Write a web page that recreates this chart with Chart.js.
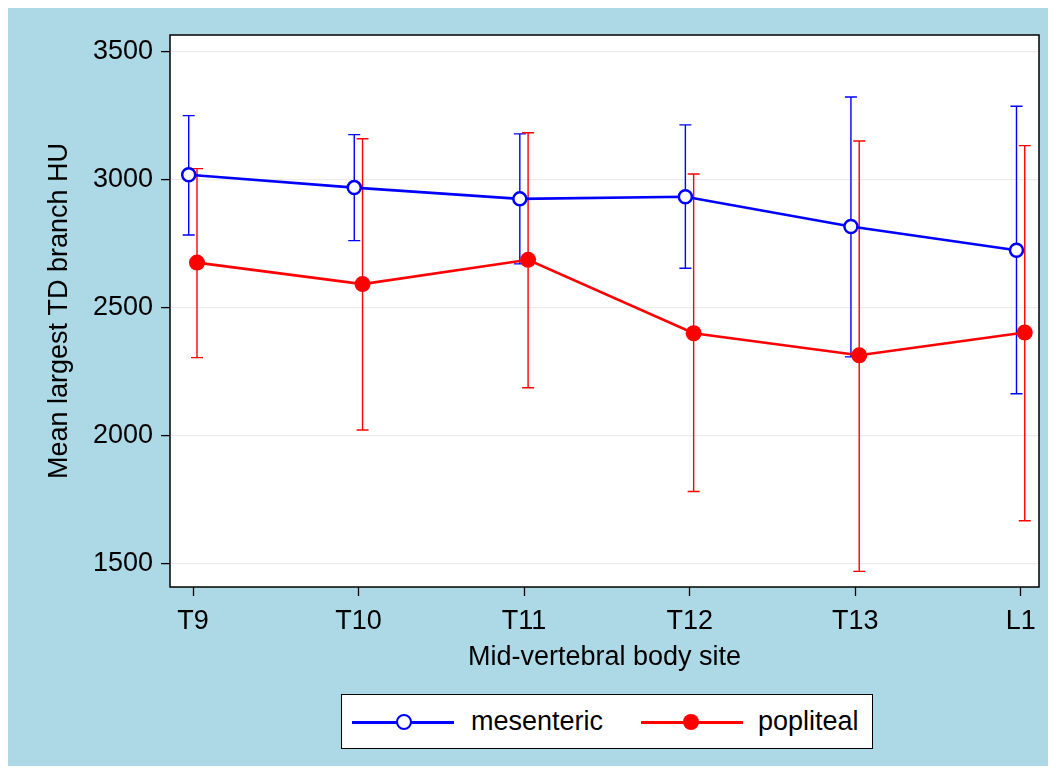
<!DOCTYPE html>
<html>
<head>
<meta charset="utf-8">
<title>Mean largest TD branch HU</title>
<script src="https://cdn.jsdelivr.net/npm/chart.js@4"></script>
<style>
  body { margin: 0; background: #fff; font-family: "Liberation Sans", Arial, Helvetica, sans-serif; }
  #wrap { position: absolute; left: 8px; top: 8px; width: 1040px; height: 758px; background: #add8e6; }
  #legend { position: absolute; left: 333px; top: 686px; width: 530px; height: 53px;
            background: #fff; border: 1px solid #000; }
  .line { position: absolute; top: 26px; height: 3px; }
  .dot { position: absolute; top: 19px; width: 16px; height: 16px; border-radius: 50%; box-sizing: border-box; }
  .txt { position: absolute; top: 11px; font-size: 27px; line-height: 30px; color: #000; white-space: nowrap; }
</style>
</head>
<body>
<div id="wrap">
  <canvas id="chart" width="1040" height="758"></canvas>
  <div id="legend">
    <div class="line" style="left:10px;width:102px;background:#0000ff"></div>
    <div class="dot" style="left:54px;background:#fff;border:2.5px solid #0000ff"></div>
    <div class="txt" style="left:129px">mesenteric</div>
    <div class="line" style="left:299px;width:102px;background:#ff0000"></div>
    <div class="dot" style="left:341px;background:#ff0000"></div>
    <div class="txt" style="left:416px">popliteal</div>
  </div>
</div>
<script>
// values (mean with lower/upper bar)
const sites = ['T9', 'T10', 'T11', 'T12', 'T13', 'L1'];
const mesMean = [3020, 2970, 2926, 2934, 2818, 2725];
const mesLow  = [2785, 2763, 2672, 2655, 2309, 2165];
const mesHigh = [3251, 3177, 3180, 3215, 3324, 3288];
const popMean = [2677, 2593, 2688, 2401, 2315, 2404];
const popLow  = [2306, 2023, 2188, 1783, 1471, 1669];
const popHigh = [3044, 3161, 3184, 3023, 3152, 3134];
const yTicks = [1500, 2000, 2500, 3000, 3500];

// small horizontal dodge so the two groups don't overlap
const mesShift = -0.026, popShift = 0.024;
const font = '"Liberation Sans", Arial, Helvetica, sans-serif';

const plotFrame = {
  id: 'plotFrame',
  beforeDraw(chart) {
    const a = chart.chartArea, ctx = chart.ctx;
    ctx.save();
    ctx.fillStyle = '#fff';
    ctx.fillRect(a.left, a.top, a.right - a.left, a.bottom - a.top);
    ctx.restore();
  },
  afterDraw(chart) {
    const a = chart.chartArea, ctx = chart.ctx;
    ctx.save();
    ctx.strokeStyle = '#000';
    ctx.lineWidth = 1.5;
    ctx.strokeRect(a.left, a.top, a.right - a.left, a.bottom - a.top);
    ctx.restore();
  }
};

const errorBars = {
  id: 'errorBars',
  beforeDatasetsDraw(chart) {
    const ctx = chart.ctx, x = chart.scales.x, y = chart.scales.y;
    ctx.save();
    chart.data.datasets.forEach(ds => {
      ctx.strokeStyle = ds.borderColor;
      ctx.lineWidth = 1.4;
      ds.data.forEach((p, i) => {
        const px = x.getPixelForValue(p.x);
        const top = y.getPixelForValue(ds.errHigh[i]);
        const bot = y.getPixelForValue(ds.errLow[i]);
        ctx.beginPath();
        ctx.moveTo(px, top); ctx.lineTo(px, bot);
        ctx.moveTo(px - 6, top); ctx.lineTo(px + 6, top);
        ctx.moveTo(px - 6, bot); ctx.lineTo(px + 6, bot);
        ctx.stroke();
      });
    });
    ctx.restore();
  }
};

new Chart(document.getElementById('chart'), {
  type: 'line',
  data: {
    datasets: [{
      label: 'mesenteric',
      data: mesMean.map((v, i) => ({ x: i + mesShift, y: v })),
      errLow: mesLow, errHigh: mesHigh,
      borderColor: '#0000ff',
      borderWidth: 2.6,
      pointRadius: 6.5,
      pointBorderWidth: 2.5,
      pointBackgroundColor: '#fff',
      pointBorderColor: '#0000ff',
      tension: 0
    }, {
      label: 'popliteal',
      data: popMean.map((v, i) => ({ x: i + popShift, y: v })),
      errLow: popLow, errHigh: popHigh,
      borderColor: '#ff0000',
      borderWidth: 2.6,
      pointRadius: 8,
      pointBorderWidth: 0,
      pointBackgroundColor: '#ff0000',
      pointBorderColor: '#ff0000',
      tension: 0
    }]
  },
  options: {
    responsive: false,
    animation: false,
    devicePixelRatio: 1,
    layout: { padding: { top: 27, right: 6, left: 0, bottom: 92 } },
    plugins: { legend: { display: false }, tooltip: { enabled: false } },
    scales: {
      x: {
        type: 'linear',
        min: -0.139,
        max: 5.11,
        afterBuildTicks: s => { s.ticks = sites.map((n, i) => ({ value: i })); },
        afterFit: s => { s.height = 87; },
        ticks: {
          callback: v => sites[v],
          color: '#000',
          padding: 9,
          maxRotation: 0,
          font: { size: 27, family: font }
        },
        grid: { drawOnChartArea: false, tickLength: 9, tickColor: '#000', tickWidth: 1.3 },
        border: { display: false },
        title: {
          display: true,
          text: 'Mid-vertebral body site',
          color: '#000',
          padding: 0,
          font: { size: 27, family: font }
        }
      },
      y: {
        min: 1410,
        max: 3566,
        afterBuildTicks: s => { s.ticks = yTicks.map(v => ({ value: v })); },
        afterFit: s => { s.width = 162; },
        ticks: {
          callback: v => String(v),
          color: '#000',
          padding: 8,
          font: { size: 27, family: font }
        },
        grid: { color: '#ececec', lineWidth: 1.2, tickLength: 9, tickColor: '#000', tickWidth: 1.3 },
        border: { display: false },
        title: {
          display: true,
          text: 'Mean largest TD branch HU',
          color: '#000',
          padding: { top: 35, bottom: 0 },
          font: { size: 27, family: font }
        }
      }
    }
  },
  plugins: [plotFrame, errorBars]
});
</script>
</body>
</html>
